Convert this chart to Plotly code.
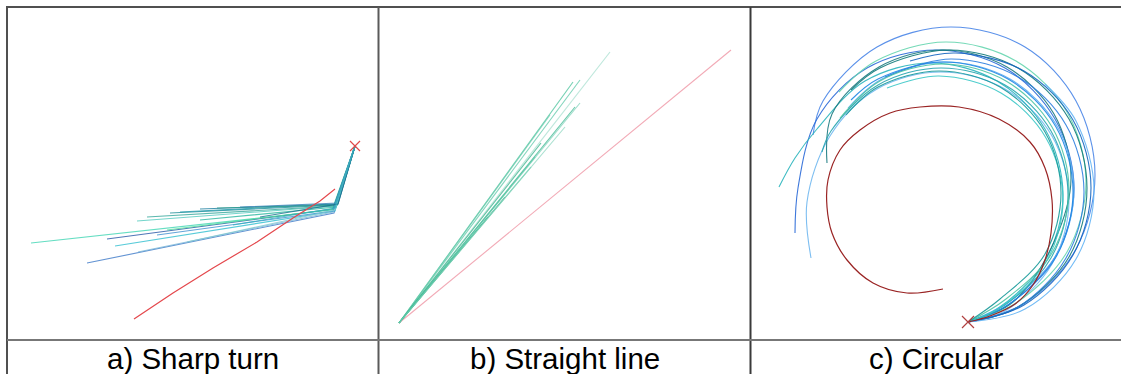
import plotly.graph_objects as go

# ---------------------------------------------------------------
# a) Sharp turn: ground truth path and predicted samples
# ---------------------------------------------------------------
sharp_start = (348, 194)
sharp_truth_x = [127, 166, 206, 250, 286, 313, 328]
sharp_truth_y = [21, 47, 72, 98, 122, 139, 151]
sharp_knee_x = [325, 327, 326, 328, 329, 326, 327, 330, 331, 329, 330, 331, 327, 329, 326, 328, 331, 328]
sharp_knee_y = [130, 127, 131, 129, 134, 128, 134, 135, 136, 136, 135, 137, 131, 133, 129, 130, 136, 132]
sharp_end_x = [24, 80, 100, 108, 130, 131, 140, 163, 173, 193, 210, 233, 160, 193, 150, 180, 253, 226]
sharp_end_y = [97, 77, 101, 94, 119, 88, 123, 127, 128, 131, 132, 133, 110, 120, 105, 98, 123, 115]

# ---------------------------------------------------------------
# b) Straight line
# ---------------------------------------------------------------
straight_start = (20, 17)
straight_truth_end = (352, 290)
straight_end_x = [231, 201, 194, 201, 196, 171, 162, 152, 126, 109, 186, 156]
straight_end_y = [288, 260, 258, 237, 233, 225, 197, 173, 143, 123, 213, 183]

# ---------------------------------------------------------------
# c) Circular
# ---------------------------------------------------------------
circ_start = (217, 18)
circ_truth_x = [217, 239, 264, 282, 294, 300, 301, 294, 279, 248, 208, 169, 139, 109, 89, 77, 76, 81, 96, 122, 156, 192]
circ_truth_y = [18, 24, 36, 55, 80, 107, 140, 172, 198, 221, 233, 233, 227, 210, 190, 160, 133, 107, 80, 57, 47, 51]
circ_pred_x = [
    [274, 325, 344, 325, 274, 200, 126, 72, 62],
    [254, 304, 323, 304, 254, 185, 116, 66, 47, 44],
    [254, 301, 318, 301, 254, 190, 126, 79, 56, 60],
    [246, 294, 312, 294, 246, 180, 114, 66, 44, 28],
    [262, 303, 320, 303, 256, 192, 128, 81, 76],
    [265, 316, 335, 316, 265, 195, 125, 88],
    [267, 318, 336, 318, 267, 198, 129, 100],
    [259, 306, 323, 306, 259, 195, 131, 97],
    [257, 305, 322, 305, 257, 192, 127, 100],
    [254, 300, 317, 300, 254, 190, 127, 80, 71],
    [250, 295, 312, 295, 250, 188, 136],
    [267, 315, 333, 315, 267, 200, 134],
    [255, 301, 318, 301, 255, 192, 129, 89],
    [273, 322, 340, 322, 273, 205, 159],
    [274, 325, 343, 325, 294],
    [249, 294, 310, 294, 249, 188, 127, 95],
]
circ_pred_y = [
    [37, 91, 165, 239, 293, 313, 293, 239, 205],
    [33, 83, 152, 221, 272, 290, 272, 221, 152, 107],
    [29, 76, 140, 204, 251, 268, 251, 204, 138, 82],
    [31, 79, 145, 211, 259, 277, 259, 211, 182, 153],
    [38, 98, 162, 226, 273, 290, 273, 226, 177],
    [37, 88, 158, 228, 279, 298, 279, 248],
    [33, 83, 152, 221, 272, 290, 272, 250],
    [39, 86, 150, 214, 261, 278, 261, 232],
    [35, 83, 148, 213, 261, 278, 261, 240],
    [35, 82, 145, 209, 255, 272, 255, 209, 188],
    [33, 78, 140, 202, 247, 264, 252],
    [33, 82, 148, 215, 263, 281, 263],
    [41, 87, 150, 213, 259, 276, 259, 222],
    [35, 85, 152, 220, 269, 287, 279],
    [31, 81, 150, 219, 256],
    [41, 86, 147, 208, 253, 269, 253, 225],
]

panel_titles = ["a) Sharp turn", "b) Straight line", "c) Circular"]

# ---------------------------------------------------------------
# styling
# ---------------------------------------------------------------
W, H = 1121, 374
sharp_colors = ["#3fd6b4", "#3b78c8", "#2456a6", "#2fbfd0", "#52cbbf", "#7ab8d8",
                "#36a89c", "#1f8f99", "#2a9fb0", "#1c7fa0", "#2c9c8c", "#3a86b8",
                "#4fe09a", "#2ab7a0", "#3d8fd0", "#80c8d0", "#1b6f8f", "#33b0c0"]
straight_colors = ["#a8e0d0", "#5cc8a8", "#46c29a", "#7fd3bb", "#37b58e", "#6ccdb0",
                   "#2fae86", "#46c29a", "#2fae86", "#37b58e", "#8fd8c2", "#5cc8a8"]
circ_colors = ["#4a86e8", "#2a6ad8", "#70b8f0", "#2ab5bd", "#1a7a80", "#66d6b0",
               "#137b7b", "#5aaaf0", "#1e88e5", "#26a6b0", "#3cc8c8", "#2d7fe0",
               "#4cc4a4", "#1565c0", "#64b5f6", "#179a9a"]

# panel boxes in pixels: (left, right), shared top/bottom
panel_x = [(7, 378), (379, 750), (751, 1121)]
panel_top, panel_bottom = 7, 340

fig = go.Figure()


def add_line(ax, xs, ys, color, width=1.1, opacity=1.0, shape="linear"):
    fig.add_trace(go.Scatter(
        x=xs, y=ys, mode="lines", xaxis=f"x{ax}", yaxis=f"y{ax}",
        line=dict(color=color, width=width, shape=shape),
        opacity=opacity, hoverinfo="skip", showlegend=False))


def add_cross(ax, pos, color, size):
    fig.add_trace(go.Scatter(
        x=[pos[0]], y=[pos[1]], mode="markers", xaxis=f"x{ax}", yaxis=f"y{ax}",
        marker=dict(symbol="x-thin-open", size=size, color=color,
                    line=dict(color=color, width=1.2)),
        hoverinfo="skip", showlegend=False))


# a) sharp turn
for i in range(len(sharp_end_x)):
    add_line("", [sharp_start[0], sharp_knee_x[i], sharp_end_x[i]],
             [sharp_start[1], sharp_knee_y[i], sharp_end_y[i]],
             sharp_colors[i], width=1.1, opacity=0.8)
add_line("", sharp_truth_x, sharp_truth_y, "#e4474c", width=1.2)
add_cross("", sharp_start, "#e04848", 10)

# b) straight line
add_line("2", [straight_start[0], straight_truth_end[0]],
         [straight_start[1], straight_truth_end[1]], "#f2aab6", width=1.1)
for i in range(len(straight_end_x)):
    add_line("2", [straight_start[0], straight_end_x[i]],
             [straight_start[1], straight_end_y[i]],
             straight_colors[i], width=1.1, opacity=0.75)

# c) circular
for i in range(len(circ_pred_x)):
    add_line("3", [circ_start[0]] + circ_pred_x[i], [circ_start[1]] + circ_pred_y[i],
             circ_colors[i], width=1.1, opacity=0.9, shape="spline")
add_line("3", circ_truth_x, circ_truth_y, "#9a2424", width=1.2, shape="spline")
add_cross("3", circ_start, "#b04040", 12)

# axes: each panel is a bare drawing area
ydom = [(H - panel_bottom) / H, (H - panel_top) / H]
layout_axes = {}
for k, (l, r) in enumerate(panel_x):
    suffix = "" if k == 0 else str(k + 1)
    layout_axes[f"xaxis{suffix}"] = dict(domain=[l / W, r / W], range=[0, r - l],
                                         visible=False, fixedrange=True)
    layout_axes[f"yaxis{suffix}"] = dict(domain=ydom, range=[0, panel_bottom - panel_top],
                                         visible=False, fixedrange=True,
                                         anchor=f"x{suffix}")


def px_x(v):
    return v / W


def px_y(v):
    return 1 - v / H


grid = [
    (6, panel_top, W, panel_top, "#505050"),
    (7, 6, 7, H, "#505050"),
    (378.5, panel_top, 378.5, H, "#5a5a5a"),
    (750.5, panel_top, 750.5, H, "#3a3a3a"),
    (7, panel_bottom, W, panel_bottom, "#777777"),
]
shapes = [dict(type="line", xref="paper", yref="paper",
               x0=px_x(a), y0=px_y(b), x1=px_x(c), y1=px_y(d),
               line=dict(color=col, width=2), layer="above")
          for a, b, c, d, col in grid]

annotations = [dict(text=t, xref="paper", yref="paper",
                    x=px_x((l + r) / 2), y=px_y(358), xanchor="center", yanchor="middle",
                    showarrow=False,
                    font=dict(family="Liberation Sans, Arial, sans-serif", size=29.5,
                              color="#000000"))
               for t, (l, r) in zip(panel_titles, panel_x)]

fig.update_layout(
    width=W, height=H, autosize=False,
    margin=dict(l=0, r=0, t=0, b=0, pad=0),
    paper_bgcolor="white", plot_bgcolor="white",
    shapes=shapes, annotations=annotations, showlegend=False,
    **layout_axes,
)

fig.write_html("out.html", config={"displayModeBar": False})
